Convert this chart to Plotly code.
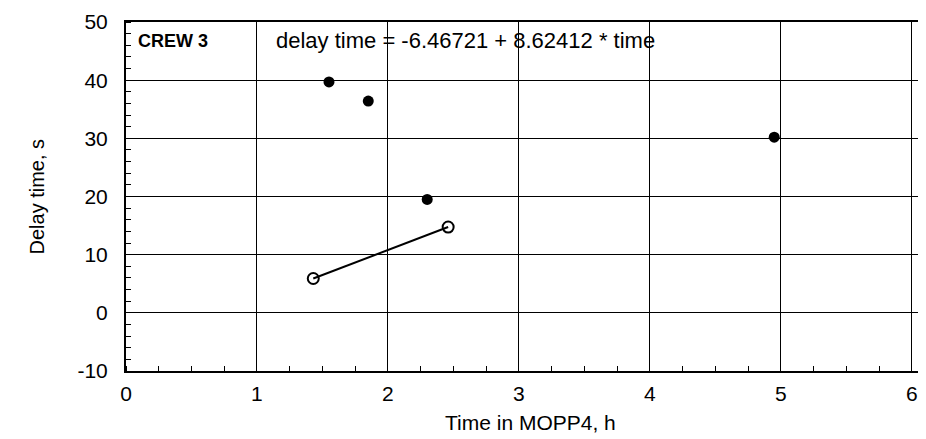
import plotly.graph_objects as go

# Data
obs_time = [1.55, 1.85, 2.30, 4.95]
obs_delay = [39.7, 36.4, 19.5, 30.2]

fit_time = [1.43, 2.46]
fit_delay = [5.9, 14.75]

x_ticks = [0, 1, 2, 3, 4, 5, 6]
y_ticks = [-10, 0, 10, 20, 30, 40, 50]

crew_label = "CREW 3"
equation_label = "delay time = -6.46721 + 8.62412 * time"
x_title = "Time in MOPP4, h"
y_title = "Delay time, s"

FONT = "Liberation Sans, Arial, Helvetica, sans-serif"

fig = go.Figure()

fig.add_trace(go.Scatter(
    x=fit_time, y=fit_delay, mode="lines+markers",
    line=dict(color="black", width=2),
    marker=dict(symbol="circle-open", size=11, color="black", line=dict(width=2)),
    showlegend=False,
))

fig.add_trace(go.Scatter(
    x=obs_time, y=obs_delay, mode="markers",
    marker=dict(symbol="circle", size=11, color="black"),
    showlegend=False,
))

fig.add_annotation(x=0.08, y=46.8, text="<b>" + crew_label + "</b>", showarrow=False,
                   xanchor="left", yanchor="middle", font=dict(size=18, color="black", family=FONT))
fig.add_annotation(x=1.13, y=46.8, text=equation_label, showarrow=False,
                   xanchor="left", yanchor="middle", font=dict(size=22, color="black", family=FONT))

# axis titles
fig.add_annotation(x=0.5, y=0, xref="paper", yref="paper", yshift=-51, text=x_title,
                   showarrow=False, xanchor="center", yanchor="middle",
                   font=dict(size=21, color="black", family=FONT))
fig.add_annotation(x=0, y=0.5, xref="paper", yref="paper", xshift=-90, text=y_title,
                   showarrow=False, xanchor="center", yanchor="middle", textangle=-90,
                   font=dict(size=20, color="black", family=FONT))

fig.update_layout(
    width=926, height=439,
    margin=dict(l=118, r=0, t=14, b=76),
    paper_bgcolor="white", plot_bgcolor="white",
    font=dict(family=FONT, size=21, color="black"),
    xaxis=dict(
        range=[0, 6.17], tickvals=x_ticks, ticktext=[str(v) for v in x_ticks],
        showgrid=True, gridcolor="black", gridwidth=1,
        showline=True, linecolor="black", linewidth=2, mirror=True,
        ticks="", zeroline=False, ticklabelstandoff=3, automargin=False,
        minor=dict(dtick=0.25, tick0=0, ticks="inside", ticklen=5, tickcolor="black", tickwidth=1, showgrid=False),
    ),
    yaxis=dict(
        range=[-10, 50], tickvals=y_ticks, ticktext=[str(v) for v in y_ticks],
        showgrid=True, gridcolor="black", gridwidth=1,
        showline=True, linecolor="black", linewidth=2,
        ticks="", zeroline=False, ticklabelstandoff=12, automargin=False,
        minor=dict(dtick=2, tick0=0, ticks="inside", ticklen=5, tickcolor="black", tickwidth=1, showgrid=False),
    ),
)

fig.write_html("out.html")
